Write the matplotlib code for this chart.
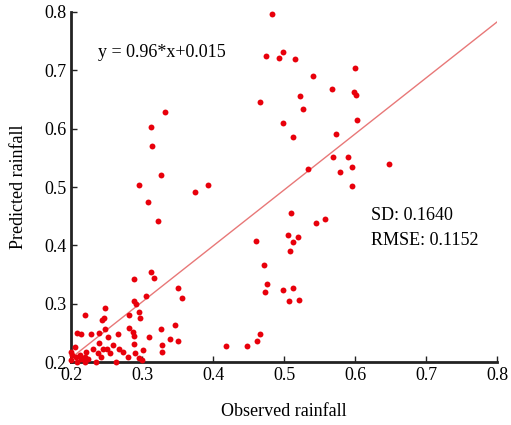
import matplotlib
matplotlib.use("Agg")
import matplotlib.pyplot as plt
import numpy as np

plt.rcParams['font.family'] = ['Liberation Serif', 'DejaVu Serif']

obs = [0.483, 0.474, 0.498, 0.493, 0.516, 0.600, 0.541, 0.568, 0.599, 0.601,
       0.466, 0.523, 0.527, 0.498, 0.602, 0.512, 0.573, 0.569, 0.590, 0.533,
       0.595, 0.578, 0.595, 0.647,
       0.509, 0.545, 0.557, 0.461, 0.505, 0.520, 0.513, 0.508, 0.472, 0.476,
       0.473, 0.498, 0.513, 0.507, 0.521, 0.466, 0.462, 0.448, 0.418,
       0.333, 0.312, 0.314, 0.327, 0.295, 0.393, 0.374, 0.309, 0.322, 0.313,
       0.317, 0.289,
       0.350, 0.356, 0.306, 0.289, 0.291, 0.248, 0.220, 0.282, 0.296, 0.297,
       0.247, 0.243, 0.248, 0.282, 0.287, 0.289, 0.209, 0.214, 0.228, 0.240,
       0.252, 0.266, 0.310, 0.326, 0.346, 0.339, 0.350, 0.328, 0.328, 0.289,
       0.301, 0.290, 0.296, 0.300, 0.240, 0.259, 0.268, 0.273, 0.280, 0.263,
       0.231, 0.245, 0.250, 0.238, 0.242, 0.255, 0.221, 0.219, 0.224, 0.205,
       0.200, 0.202, 0.207, 0.212, 0.214, 0.200, 0.209, 0.235, 0.219]
pred = [0.797, 0.725, 0.732, 0.721, 0.719, 0.704, 0.690, 0.668, 0.662, 0.658,
        0.646, 0.656, 0.633, 0.609, 0.614, 0.585, 0.591, 0.552, 0.552, 0.531,
        0.535, 0.526, 0.502, 0.540,
        0.456, 0.438, 0.445, 0.408, 0.418, 0.414, 0.405, 0.391, 0.367, 0.333,
        0.320, 0.324, 0.327, 0.305, 0.307, 0.248, 0.237, 0.227, 0.228,
        0.629, 0.603, 0.571, 0.520, 0.504, 0.503, 0.492, 0.475, 0.441, 0.354,
        0.344, 0.342,
        0.327, 0.309, 0.313, 0.305, 0.300, 0.293, 0.281, 0.280, 0.285, 0.276,
        0.276, 0.272, 0.257, 0.259, 0.252, 0.245, 0.250, 0.248, 0.248, 0.250,
        0.243, 0.248, 0.243, 0.256, 0.263, 0.240, 0.236, 0.230, 0.217, 0.231,
        0.221, 0.215, 0.207, 0.203, 0.232, 0.230, 0.223, 0.217, 0.209, 0.201,
        0.223, 0.223, 0.223, 0.215, 0.209, 0.215, 0.217, 0.209, 0.205, 0.226,
        0.217, 0.212, 0.209, 0.212, 0.206, 0.203, 0.200, 0.200, 0.201]

slope, intercept = 0.96, 0.015
sd_val, rmse_val = 0.1640, 0.1152
ticks = [0.2, 0.3, 0.4, 0.5, 0.6, 0.7, 0.8]

fig = plt.figure(figsize=(5.11, 4.25), dpi=100)
ax = fig.add_axes([0.139, 0.148, 0.834, 0.824])

ax.scatter(obs, pred, s=18, color='#e8000b', zorder=3, linewidths=0, clip_on=False)
xl = np.array([0.2, 0.8])
ax.plot(xl, slope * xl + intercept, color='#e87878', lw=1.0, zorder=2)

ax.set_xlim(0.2, 0.8)
ax.set_ylim(0.2, 0.8)
ax.set_xticks(ticks)
ax.set_yticks(ticks)
ax.set_xticklabels([f"{t:.1f}" for t in ticks])
ax.set_yticklabels([f"{t:.1f}" for t in ticks])
for s in ['top', 'right']:
    ax.spines[s].set_visible(False)
for s in ['left', 'bottom']:
    ax.spines[s].set_linewidth(2)
    ax.spines[s].set_color('#222222')
ax.tick_params(direction='in', length=4, width=1, labelsize=13, colors='#222222', labelcolor='black')

ax.text(0.238, 0.731, f"y = {slope}*x+{intercept}", fontsize=13, va='center', ha='left')
ax.text(0.622, 0.452, f"SD: {sd_val:.4f}", fontsize=13, va='center', ha='left')
ax.text(0.622, 0.409, f"RMSE: {rmse_val:.4f}", fontsize=13, va='center', ha='left')

ax.set_xlabel("Observed rainfall", fontsize=13, labelpad=14)
ax.set_ylabel("Predicted rainfall", fontsize=13, labelpad=12)

fig.savefig("out.png", dpi=100)
